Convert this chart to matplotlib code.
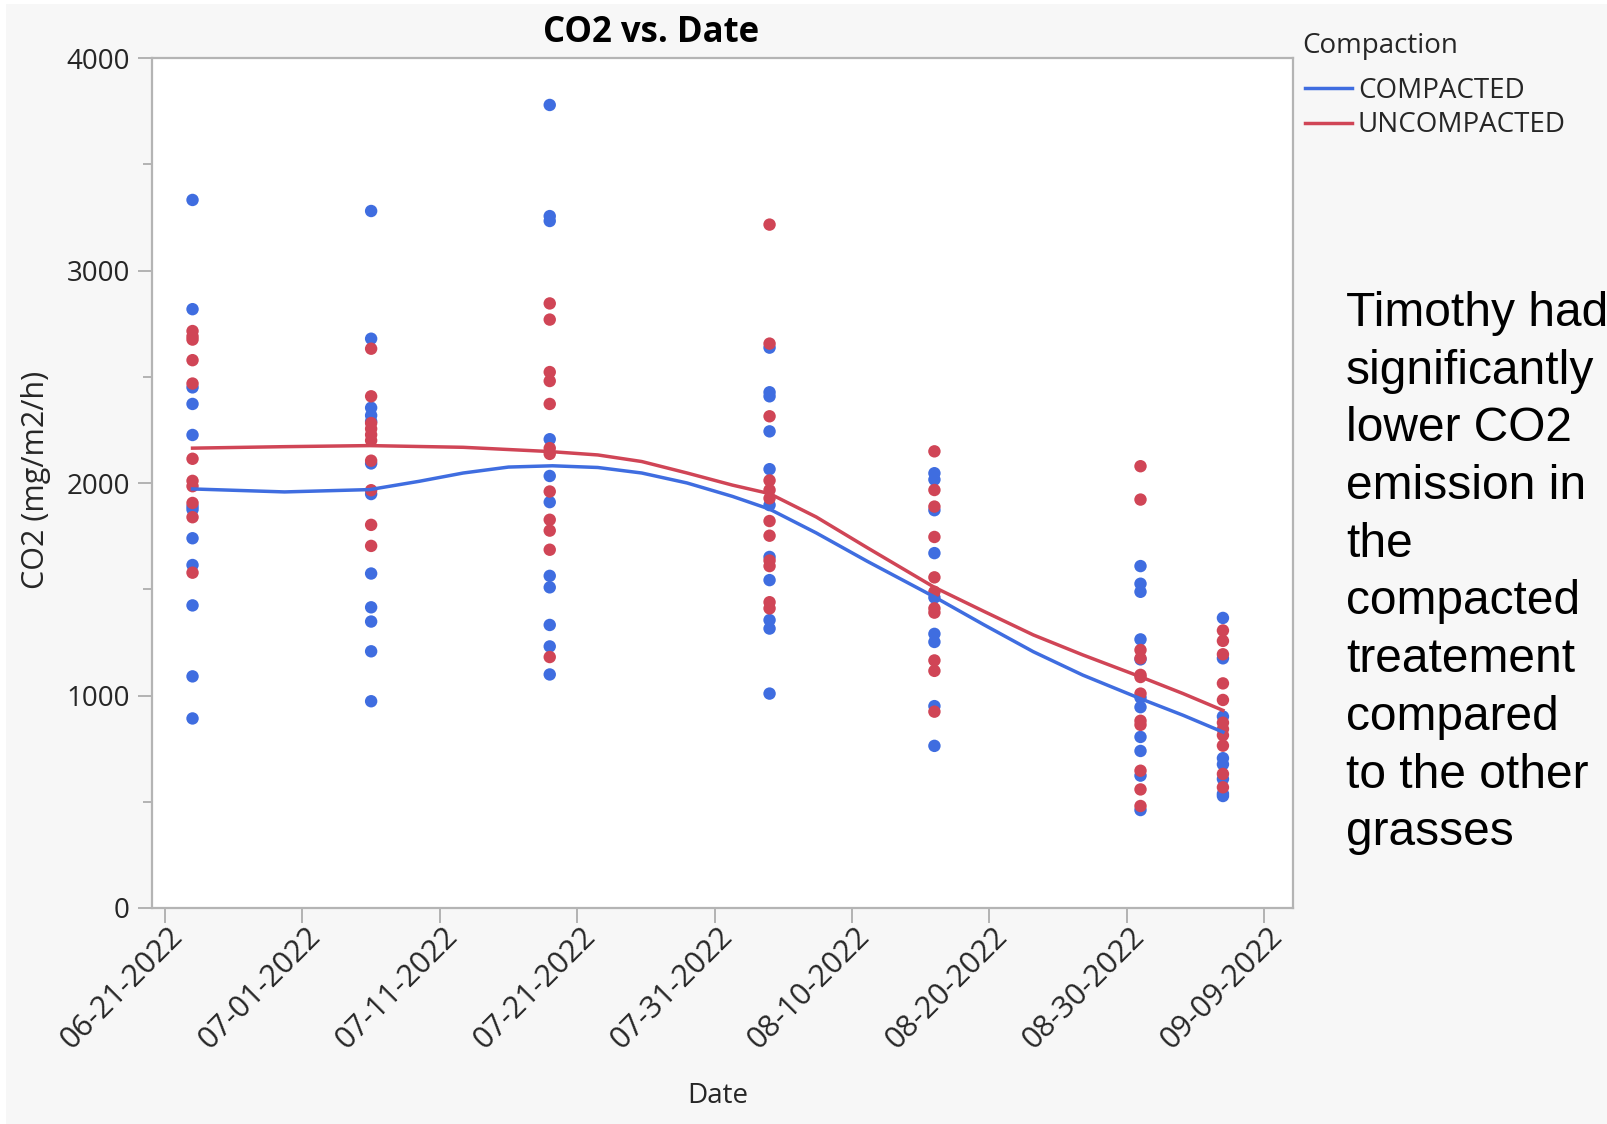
import numpy as np
import pandas as pd
import matplotlib
matplotlib.use("Agg")
import matplotlib.pyplot as plt
import matplotlib.dates as mdates
from matplotlib.patches import Rectangle
from matplotlib.transforms import ScaledTranslation

# sampling dates (one column of points per date)
sample_dates = ["2022-06-23", "2022-07-06", "2022-07-19", "2022-08-04",
                "2022-08-16", "2022-08-31", "2022-09-06"]

# CO2 (mg/m2/h), COMPACTED plots, one list per sampling date
compacted = [
    [3332, 2818, 2450, 2372, 2226, 1890, 1875, 1740, 1614, 1424, 1090, 892],
    [3280, 2679, 2354, 2318, 2290, 2092, 1948, 1574, 1415, 1348, 1208, 973],
    [3779, 3256, 3233, 2206, 2033, 1910, 1563, 1509, 1332, 1231, 1099],
    [2637, 2427, 2408, 2243, 2065, 1896, 1652, 1543, 1355, 1315, 1009],
    [2046, 2016, 1872, 1670, 1461, 1290, 1252, 950, 763],
    [1609, 1526, 1488, 1264, 1170, 990, 945, 805, 739, 623, 461],
    [1365, 1175, 901, 705, 676, 607, 537, 527],
]

# CO2 (mg/m2/h), UNCOMPACTED plots
uncompacted = [
    [2715, 2690, 2675, 2578, 2468, 2114, 2010, 1985, 1906, 1839, 1578],
    [2632, 2408, 2282, 2255, 2227, 2200, 2105, 1966, 1803, 1704],
    [2845, 2769, 2522, 2480, 2372, 2164, 2137, 1960, 1827, 1776, 1686, 1181],
    [3216, 2656, 2314, 2012, 1967, 1928, 1821, 1752, 1635, 1609, 1439, 1410],
    [2149, 1967, 1889, 1746, 1556, 1488, 1410, 1390, 1165, 1116, 924],
    [2079, 1922, 1214, 1175, 1097, 1087, 1009, 881, 862, 646, 558, 480],
    [1306, 1257, 1194, 1057, 979, 872, 842, 813, 764, 631, 568],
]

# smoother curves (days after 06-21-2022, value)
start_date = "2022-06-21"
blue_days = [2, 8.7, 14.9, 18.5, 21.7, 25, 28.2, 31.5, 34.7, 38, 41.3, 44,
             47.4, 51.1, 56, 59.6, 63.2, 66.8, 71, 74.1, 77]
blue_fit = [1972, 1958, 1969, 2008, 2047, 2075, 2081, 2073, 2047, 2000, 1937,
            1877, 1765, 1632, 1464, 1333, 1206, 1096, 985, 907, 828]
red_days = [2, 8.7, 14.9, 21.7, 28, 31.5, 34.7, 38, 41.3, 44, 47.4, 51.1,
            56, 59.6, 63.2, 66.8, 71, 74.1, 77]
red_fit = [2164, 2171, 2176, 2168, 2148, 2132, 2101, 2047, 1990, 1950, 1840,
           1696, 1509, 1396, 1285, 1191, 1088, 1009, 930]

tick_dates = pd.date_range(start_date, periods=9, freq="10D")

note_lines = ["Timothy had", "significantly", "lower CO2", "emission in", "the",
              "compacted", "treatement", "compared", "to the other", "grasses"]

blue = "#3f6de0"
red = "#d04556"
W, H = 1608, 1124

fig = plt.figure(figsize=(W / 100, H / 100), dpi=100)
fig.patch.set_facecolor("#f7f7f7")
fig.patches.append(Rectangle((0, 0), 6 / W, 1, transform=fig.transFigure,
                             facecolor="white", edgecolor="none"))
fig.patches.append(Rectangle((0, 1 - 4 / H), 1, 4 / H, transform=fig.transFigure,
                             facecolor="white", edgecolor="none"))

ax = fig.add_axes([152 / W, (H - 908) / H, (1293 - 152) / W, (908 - 58) / H])
ax.set_facecolor("white")

base = pd.Timestamp(start_date)
for d, vals in zip(sample_dates, compacted):
    ax.scatter([pd.Timestamp(d)] * len(vals), vals, s=80, color=blue,
               edgecolors="none", zorder=2)
for d, vals in zip(sample_dates, uncompacted):
    ax.scatter([pd.Timestamp(d)] * len(vals), vals, s=80, color=red,
               edgecolors="none", zorder=2)

bx = base + pd.to_timedelta(blue_days, unit="D")
rx = base + pd.to_timedelta(red_days, unit="D")
l1, = ax.plot(bx, blue_fit, color=blue, lw=2.5, zorder=3, label="COMPACTED")
l2, = ax.plot(rx, red_fit, color=red, lw=2.5, zorder=3, label="UNCOMPACTED")

ax.set_ylim(0, 4000)
ax.set_xlim(base - pd.Timedelta(days=0.95), base + pd.Timedelta(days=82.1))
ax.set_yticks([0, 1000, 2000, 3000, 4000])
ax.set_yticks([500, 1500, 2500, 3500], minor=True)
ax.set_xticks(tick_dates)
ax.xaxis.set_major_formatter(mdates.DateFormatter("%m-%d-%Y"))

for s in ax.spines.values():
    s.set_color("#b4b4b4")
    s.set_linewidth(1.6)

lab_font = "Open Sans"
ax.tick_params(axis="y", which="major", length=10, width=1.1, color="#a0a0a0",
               pad=6, labelsize=20, labelcolor="#262626")
ax.tick_params(axis="y", which="minor", length=6.5, width=1.1, color="#a0a0a0")
ax.tick_params(axis="x", which="major", length=10.5, width=1.1, color="#a0a0a0",
               pad=0, labelsize=22, labelcolor="#262626")
for lab in ax.get_yticklabels():
    lab.set_fontfamily(lab_font)
offset = ScaledTranslation(3 / 100, 1 / 100, fig.dpi_scale_trans)
for lab in ax.get_xticklabels():
    lab.set_fontfamily(lab_font)
    lab.set_rotation(45)
    lab.set_ha("right")
    lab.set_va("top")
    lab.set_rotation_mode("anchor")
    lab.set_transform(lab.get_transform() + offset)

fig.text(651 / W, 1 - 33 / H, "CO2 vs. Date", ha="center", va="center",
         fontsize=25, fontweight="bold", family=lab_font, color="black")
fig.text(718 / W, 1 - 1096 / H, "Date", ha="center", va="center",
         fontsize=20, family=lab_font, color="#262626")
fig.text(36 / W, 1 - 480 / H, "CO2 (mg/m2/h)", ha="center", va="center",
         rotation=90, fontsize=22, family=lab_font, color="#262626")

# legend: title on its own, entries below
fig.text(1302 / W, 1 - 46 / H, "Compaction", ha="left", va="center",
         fontsize=20, family=lab_font, color="#262626")
leg = fig.legend(handles=[l1, l2], loc="center left",
                 bbox_to_anchor=(1305 / W, 1 - 108 / H), frameon=False,
                 prop={"family": lab_font, "size": 20},
                 handlelength=1.7, handletextpad=0.2, labelspacing=0.25,
                 borderaxespad=0, borderpad=0)
for t in leg.get_texts():
    t.set_color("#262626")

pitch = 57.7
for i, line in enumerate(note_lines):
    fig.text(1346 / W, 1 - (326 + i * pitch) / H, line, ha="left",
             va="baseline", fontsize=34.5, family="Liberation Sans",
             color="black")

fig.savefig("out.png", dpi=100, facecolor=fig.get_facecolor())
